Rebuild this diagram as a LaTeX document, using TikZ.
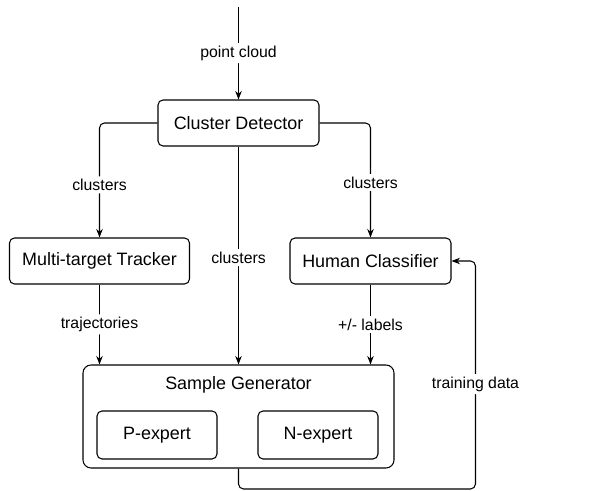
\documentclass[tikz,border=0pt]{standalone}
\usepackage{fontspec}
\setmainfont{Liberation Sans}
\usetikzlibrary{arrows.meta,positioning}
\tikzset{block/.style={draw, line width=0.6pt, rounded corners=0.1cm, minimum height=0.92cm,
                       inner sep=0mm, font=\fontsize{10.2}{12}\selectfont}}

\begin{document}
\begin{tikzpicture}[flow/.style = {line width = 0.6pt, rounded corners = 0.1cm, -{Stealth[length=1.7mm, width=1.3mm]}},
                    edge_label/.style = {fill = white, inner sep = 1.5pt, font = \fontsize{9}{11}\selectfont},
                    expert/.style = {block, minimum width = 2.4cm, minimum height = 0.96cm}]
    \useasboundingbox (0,0) rectangle (12,9.82);
    %blocks
    \node[block, minimum width = 3.22cm] (detector) at (4.77,7.36) {Cluster Detector};
    \node[block, minimum width = 3.6cm] (tracker) at (1.99,4.60) {Multi-target Tracker};
    \node[block, minimum width = 3.22cm] (classifier) at (7.41,4.60) {Human Classifier};
    \node[block, rounded corners = 0.16cm, minimum width = 6.22cm, minimum height = 2.06cm] (generator) at (4.77,1.49) {};
    \node[font = \fontsize{10.2}{12}\selectfont] (gentitle) at (4.77,2.12) {Sample Generator};
    \node[expert] (pexpert) at (3.14,1.12) {P-expert};
    \node[expert] (nexpert) at (6.36,1.12) {N-expert};
    %input
    \coordinate (input) at (4.77,9.68);
    \coordinate (loop) at (9.51,0.04);
    %arrows
    \draw[flow] (input) -- (detector.north) node[edge_label, midway] {point cloud};
    \draw[flow] (detector.west) -| (tracker.north) node[edge_label, pos = 0.77] {clusters};
    \draw[flow] (detector.east) -| (classifier.north) node[edge_label, pos = 0.76] {clusters};
    \draw[flow] (detector.south) -- (detector.south |- generator.north) node[edge_label, pos = 0.51] {clusters};
    \draw[flow] (tracker.south) -- (tracker.south |- generator.north) node[edge_label, midway] {trajectories};
    \draw[flow] (classifier.south) -- (classifier.south |- generator.north) node[edge_label, midway] {+/- labels};
    %feedback
    \draw[flow] (generator.south) |- (loop) |- (classifier.east) node[edge_label, pos = 0.23] {training data};
\end{tikzpicture}
\end{document}
